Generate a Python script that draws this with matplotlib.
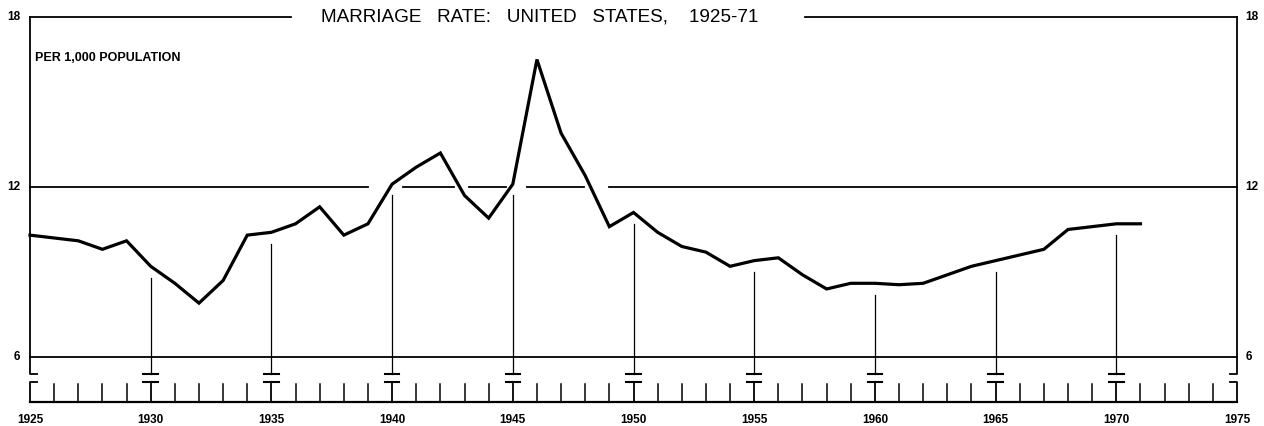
#marriage rate chart, US 1925-71
import numpy as np
from matplotlib import pyplot as plt

plt.rcParams['font.family'] = ['Liberation Sans', 'DejaVu Sans']

years = list(range(1925, 1972))
rate = [10.3, 10.2, 10.1, 9.8, 10.1, 9.2, 8.6, 7.9, 8.7, 10.3,
        10.4, 10.7, 11.3, 10.3, 10.7, 12.1, 12.7, 13.2, 11.7, 10.9,
        12.1, 16.5, 13.9, 12.4, 10.6, 11.1, 10.4, 9.9, 9.7, 9.2,
        9.4, 9.5, 8.9, 8.4, 8.6, 8.6, 8.55, 8.6, 8.9, 9.2,
        9.4, 9.6, 9.8, 10.5, 10.6, 10.7, 10.7]
y_ticks = [18, 12, 6]
x_labels = list(range(1925, 1976, 5))
title = 'MARRIAGE   RATE:   UNITED   STATES,    1925-71'
note = 'PER 1,000 POPULATION'

W, H = 1264, 426
fig = plt.figure(figsize=(W/100, H/100), dpi=100)
# axes: x 30..1237 px, y 17..402 px
ax = fig.add_axes([30/W, (H-402)/H, (1237-30)/W, (402-17)/H])
ax.set_xlim(1925, 1975)
ax.set_ylim(4.41, 18)
ax.axis('off')

k = 'black'
bot = 5.40      # bottom of frame stub
cap2 = 5.12     # top of lower tick bracket
base = 4.41     # baseline of tick strip

# top line broken by title
ax.plot([1925, 1935.8], [18, 18], color=k, lw=1.3, clip_on=False)
ax.plot([1957.1, 1975], [18, 18], color=k, lw=1.3, clip_on=False)
ax.text(1946.1, 18, title, ha='center', va='center', fontsize=13.6, color=k)

# frame sides
ax.plot([1925, 1925, 1925.3], [18, bot, bot], color=k, lw=1.3, clip_on=False)
ax.plot([1975, 1975, 1974.7], [18, bot, bot], color=k, lw=1.3, clip_on=False)

# gridline at 12 (dashed where the curve passes above)
for a, b in [(1925, 1939.0), (1940.45, 1942.55), (1943.2, 1944.7),
             (1945.6, 1947.95), (1949.0, 1975)]:
    ax.plot([a, b], [12, 12], color=k, lw=1.3, clip_on=False)
# gridline at 6
ax.plot([1925, 1975], [6, 6], color=k, lw=1.3, clip_on=False)

# data line
ax.plot(years, rate, color=k, lw=2.3, solid_joinstyle='miter', clip_on=False)

# 5-year stems with caps
for yr in range(1930, 1971, 5):
    v = rate[years.index(yr)]
    ax.plot([yr, yr], [v - 0.4, bot], color=k, lw=0.9, clip_on=False)
    ax.plot([yr - 0.3, yr + 0.3], [bot, bot], color=k, lw=1.5, clip_on=False)
    ax.plot([yr - 0.3, yr + 0.3], [cap2, cap2], color=k, lw=1.5, clip_on=False)
    ax.plot([yr, yr], [cap2, base], color=k, lw=1.3, clip_on=False)

# yearly ticks
for yr in range(1926, 1975):
    if yr % 5:
        ax.plot([yr, yr], [5.05, base], color=k, lw=1.1, clip_on=False)
ax.plot([1925.3, 1925, 1925], [cap2, cap2, base], color=k, lw=1.3, clip_on=False)
ax.plot([1974.7, 1975, 1975], [cap2, cap2, base], color=k, lw=1.3, clip_on=False)
ax.plot([1925, 1975], [base, base], color=k, lw=1.6, clip_on=False)

# labels
for yr in x_labels:
    ax.text(yr, 3.77, str(yr), ha='center', va='center', fontsize=8.5,
            fontweight='bold', color=k)
for v in y_ticks:
    ax.text(1924.6, v, str(v), ha='right', va='center', fontsize=8.5,
            fontweight='bold', color=k)
    ax.text(1975.35, v, str(v), ha='left', va='center', fontsize=8.5,
            fontweight='bold', color=k)
ax.text(1925.2, 16.55, note, ha='left', va='center', fontsize=9,
        fontweight='bold', color=k)

fig.savefig('out.png', dpi=100)
